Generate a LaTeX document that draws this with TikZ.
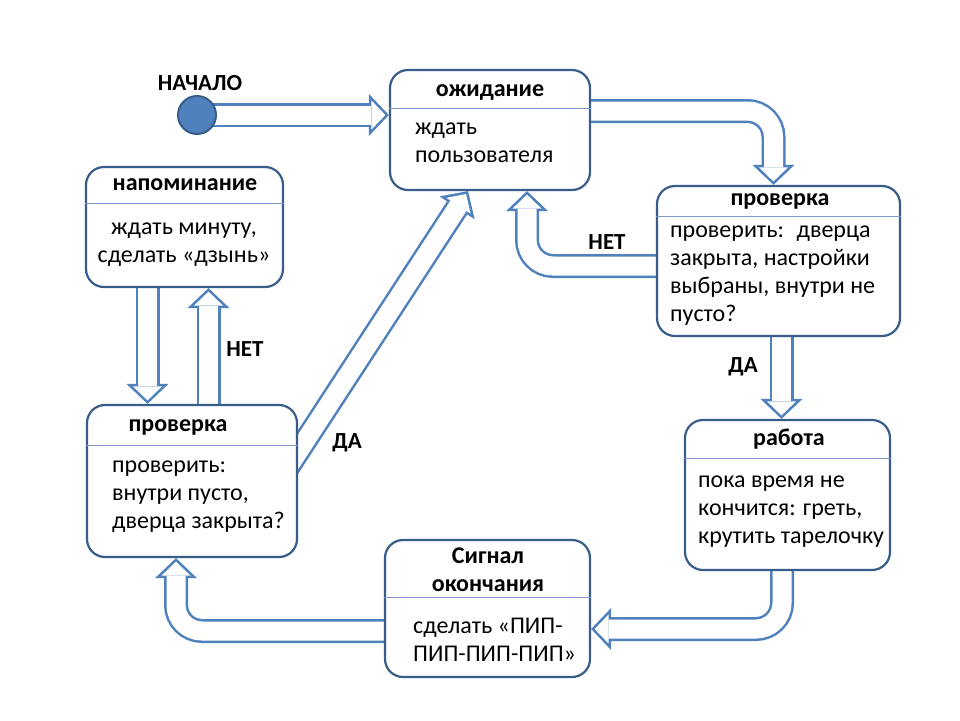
\documentclass[tikz,border=0pt]{standalone}
\usepackage{fontspec}
\setmainfont{Carlito}
\usetikzlibrary{arrows.meta,backgrounds}
\definecolor{boxblue}{RGB}{56,93,138}
\definecolor{arrowblue}{RGB}{79,129,189}
\definecolor{sepblue}{RGB}{125,155,200}
\begin{document}
\begin{tikzpicture}[x=1pt,y=-1pt,
    state/.style args={#1 by #2}{draw=boxblue,line width=2.2pt,rounded corners=18pt,fill=white,
      minimum width=#1,minimum height=#2,inner sep=0pt},
    title/.style={font=\fontsize{24}{28}\selectfont\bfseries,align=center,anchor=base,inner sep=0pt},
    body/.style={font=\fontsize{24}{28}\selectfont,align=left,anchor=base west,inner sep=0pt},
    sep/.style={draw=sepblue,line width=1pt},
    lbl/.style={font=\fontsize{23}{24}\selectfont\bfseries,anchor=base,inner sep=0pt},
    hollow/.style={draw=arrowblue,line width=24pt,-{Triangle[length=20pt,width=42pt,line width=0pt]},
      postaction={draw=white,line width=19pt,shorten >=3.5pt,-{Triangle[length=14pt,width=29pt,line width=0pt]}}},
    turn/.style={rounded corners=26pt}]
  \useasboundingbox (0,0) rectangle (960,720);
  % states
  \node[state=200pt by 120pt] (wait)   at (490,130)   {};
  \node[state=197pt by 120pt] (remind) at (184.5,227) {};
  \node[state=243pt by 150pt] (checkR) at (778.5,261) {};
  \node[state=205pt by 150pt] (work)   at (787.5,495) {};
  \node[state=205pt by 137pt] (signal) at (487.5,608.5) {};
  \node[state=210pt by 152pt] (checkL) at (192,481)   {};
  % separators
  \draw[sep] (wait.west |- 0,108)   -- (wait.east |- 0,108);
  \draw[sep] (remind.west |- 0,203) -- (remind.east |- 0,203);
  \draw[sep] (checkR.west |- 0,216) -- (checkR.east |- 0,216);
  \draw[sep] (work.west |- 0,458)   -- (work.east |- 0,458);
  \draw[sep] (signal.west |- 0,597) -- (signal.east |- 0,597);
  \draw[sep] (checkL.west |- 0,445) -- (checkL.east |- 0,445);
  % texts (multi-line: y is the last baseline)
  \node[title] (waitT) at (490,96) {ожидание};
  \node[body] (waitB) at (415,162) {ждать\\пользователя};
  \node[title] (remindT) at (185,190) {напоминание};
  \node[body,anchor=base,align=center] (remindB) at (184,262) {ждать минуту,\\сделать «дзынь»};
  \node[title] (checkRT) at (780,205) {проверка};
  \node[body] (checkRB) at (670,321) {проверить:~ дверца\\закрыта, настройки\\выбраны, внутри не\\пусто?};
  \node[title] (workT) at (789,445) {работа};
  \node[body] (workB) at (698,543) {пока время не\\кончится: греть,\\крутить тарелочку};
  \node[title] (signalT) at (488,591) {Сигнал\\окончания};
  \node[body] (signalB) at (413,661) {сделать «ПИП-\\ПИП-ПИП-ПИП»};
  \node[title] (checkLT) at (178,431) {проверка};
  \node[body] (checkLB) at (112,528) {проверить:\\внутри пусто,\\дверца закрыта?};
  % start
  \node[lbl] (startT) at (200,90) {НАЧАЛО};
  \node[circle,draw=boxblue,fill=arrowblue,line width=2pt,minimum size=38pt,inner sep=0pt] (start) at (197,115) {};
  % transitions
  \begin{scope}[on background layer]
    \draw[hollow] (start.center) -- (start.center -| wait.west);
    \draw[hollow,turn] ([yshift=19pt]wait.east) -| ([xshift=-5pt]checkR.north);
    \draw[hollow,turn] ([yshift=-5pt]checkR.west) -| ([xshift=37pt]wait.south);
    \draw[hollow] ([xshift=3pt]checkR.south) -- ([xshift=-6pt]work.north);
    \draw[hollow,turn] ([xshift=-5.5pt]work.south) |- ([yshift=-20.5pt]signal.east);
    \draw[hollow,turn] ([yshift=-22.5pt]signal.west) -| ([xshift=-16pt]checkL.south);
    \draw[hollow] ([xshift=-37pt]remind.south) -- ([xshift=-44.5pt]checkL.north);
    \draw[hollow] ([xshift=16.5pt]checkL.north) -- ([xshift=24pt]remind.south);
    \draw[hollow] ([xshift=-20pt,yshift=-1.6pt]checkL.east) -- ([xshift=-22pt]wait.south);
  \end{scope}
  % labels
  \node[lbl] (noR) at (607,249) {НЕТ};
  \node[lbl] (yesR) at (743,372) {ДА};
  \node[lbl] (noL) at (245,356) {НЕТ};
  \node[lbl] (yesL) at (347,448) {ДА};
\end{tikzpicture}
\end{document}
